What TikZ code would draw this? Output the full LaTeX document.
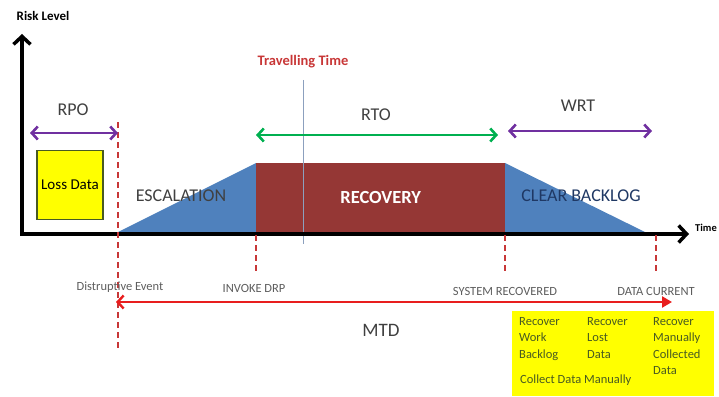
\documentclass[tikz,border=0pt]{standalone}
\usepackage{fontspec}
\setmainfont{Carlito}
\usetikzlibrary{arrows.meta,positioning,calc}

\definecolor{spanpurple}{RGB}{112,48,160}
\definecolor{spangreen}{RGB}{0,176,80}
\definecolor{markred}{RGB}{200,55,55}
\definecolor{mtdred}{RGB}{232,30,30}
\definecolor{phaseblue}{RGB}{79,129,189}
\definecolor{phasered}{RGB}{149,55,53}
\definecolor{boxyellow}{RGB}{255,255,0}
\definecolor{boxgreen}{RGB}{72,90,34}
\definecolor{textgray}{RGB}{64,64,64}
\definecolor{navytext}{RGB}{31,56,100}
\definecolor{travelline}{RGB}{140,160,190}

\begin{document}
\begin{tikzpicture}[
    x=1pt, y=-1pt,
    axis/.style={line width=3.5pt, line join=miter,
                 {Straight Barb[length=8pt,width=17pt]}-{Straight Barb[length=8pt,width=17pt]}},
    span/.style={line width=2.6pt,
                 {Straight Barb[length=6pt,width=13pt]}-{Straight Barb[length=6pt,width=13pt]}},
    mtd/.style={draw=mtdred, line width=2.4pt,
                {Straight Barb[length=6pt,width=13pt]}-{Triangle[length=10pt,width=11pt]}},
    marker/.style={draw=markred, line width=1.6pt, dash pattern=on 6pt off 4pt},
    phase/.style={font=\fontsize{18}{18}\selectfont},
    spanlabel/.style={font=\fontsize{18}{18}\selectfont, text=textgray},
    eventlabel/.style={font=\fontsize{12.5}{12.5}\selectfont, text=textgray!85},
    axislabel/.style={font=\bfseries\fontsize{13}{13}\selectfont},
    task/.style={font=\fontsize{12.5}{16.5}\selectfont, text=boxgreen, align=left,
                 anchor=north west, inner sep=0pt}
]
    \useasboundingbox (0,0) rectangle (719,396);

    % Time points
    \coordinate (origin) at (22,234);
    \coordinate (ytop) at (22,34);
    \coordinate (xend) at (689,234);
    \coordinate (event) at (118,232);
    \coordinate (invoke) at (256,232);
    \coordinate (recovered) at (505,232);
    \coordinate (backlogend) at (645,232);
    \coordinate (current) at (656,232);

    % Phases
    \fill [phaseblue] (event) -- (invoke |- 0,163) -- (invoke) -- cycle;
    \node (recovery) [fill=phasered, minimum width=249pt, minimum height=69pt,
                      anchor=south west, inner sep=0pt, text=white,
                      font=\bfseries\fontsize{18.5}{18.5}\selectfont] at (invoke) {RECOVERY};
    \fill [phaseblue] (recovered |- 0,163) -- (backlogend) -- (recovered) -- cycle;
    \node (escalation) [phase, text=textgray] at (181,196) {ESCALATION};
    \node (backlog) [phase, text=navytext] at (581,196) {CLEAR BACKLOG};

    \node (loss) [fill=boxyellow, draw=boxgreen, line width=1.2pt, minimum width=66pt,
                  minimum height=69pt, inner sep=1pt,
                  font=\fontsize{15}{15}\selectfont] at (70,185) {Loss Data};

    % Travelling time
    \node (travel) [text=markred, font=\bfseries\fontsize{14.5}{14.5}\selectfont] at (303,62) {Travelling Time};
    \coordinate (travelend) at (303,244);
    \draw [travelline, line width=0.8pt, shorten <=8pt] (travel.south) -- (travelend);

    % Axes
    \draw [axis] (ytop) -- (origin) -- (xend);
    \node (risk) [axislabel] at (43,16) {Risk Level};
    \node (time) [axislabel, font=\bfseries\fontsize{10.5}{10.5}\selectfont,
                  anchor=west, inner sep=0pt] at (695,228) {Time};

    % Markers
    \coordinate (eventtop) at (118,122);
    \coordinate (eventbot) at (118,350);
    \coordinate (invokebot) at (256,273);
    \coordinate (recoveredbot) at (505,272);
    \coordinate (currentbot) at (656,272);
    \draw [marker] (eventtop) -- (eventbot);
    \draw [marker] ([yshift=-3pt]invoke) -- (invokebot);
    \draw [marker] ([yshift=-3pt]recovered) -- (recoveredbot);
    \draw [marker] ([yshift=-3pt]current) -- (currentbot);

    \node (disrupt) [eventlabel] at (120,287) {Distruptive Event};
    \node (drp) [eventlabel] at (254,288) {INVOKE DRP};
    \node (sysrec) [eventlabel] at (505,291) {SYSTEM RECOVERED};
    \node (datacur) [eventlabel] at (656,291) {DATA CURRENT};

    % Spans
    \coordinate (rpostart) at (30,133);
    \coordinate (rtoend) at (498,135);
    \coordinate (wrtstart) at (508,131);
    \coordinate (wrtend) at (652,131);
    \coordinate (mtdstart) at (116,302);
    \coordinate (mtdend) at (672,302);
    \draw [span, spanpurple] (rpostart) -- (rpostart -| eventtop);
    \draw [span, spangreen] (rtoend -| invoke) -- (rtoend);
    \draw [span, spanpurple] (wrtstart) -- (wrtend);
    \draw [mtd] (mtdstart) -- (mtdend);

    \node (rpo) [spanlabel] at (73,110) {RPO};
    \node (rto) [spanlabel] at (376,115) {RTO};
    \node (wrt) [spanlabel] at (578,106) {WRT};
    \node (mtdlabel) [spanlabel, font=\fontsize{19}{19}\selectfont] at (381,330) {MTD};

    % Recovery tasks
    \node (tasks) [fill=boxyellow, minimum width=202pt, minimum height=85pt,
                   anchor=north west, inner sep=0pt] at (512,311) {};
    \node (work) [task] at (519,317) {Recover\\Work\\Backlog};
    \node (lost) [task] at (587,317) {Recover\\Lost\\Data};
    \node (manual) [task] at (653,317) {Recover\\Manually\\Collected\\Data};
    \node (collect) [task] at (520,375) {Collect Data Manually};

\end{tikzpicture}
\end{document}
